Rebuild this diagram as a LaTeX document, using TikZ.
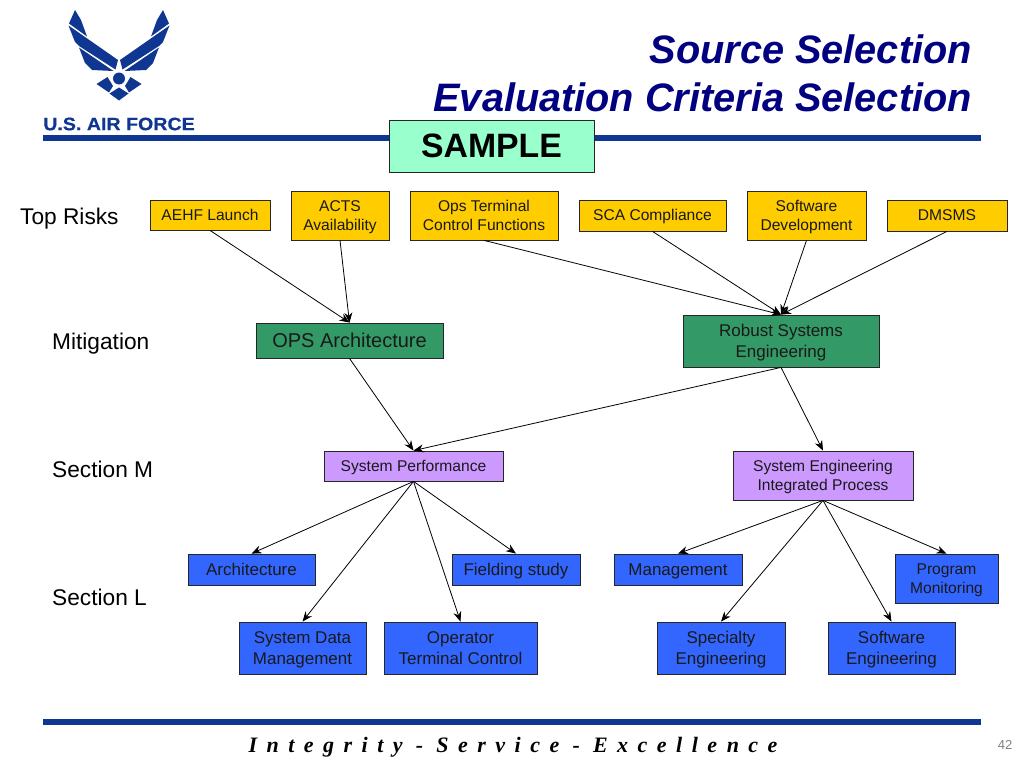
\documentclass[tikz,border=0pt]{standalone}
\usepackage{fontspec}
\usetikzlibrary{arrows.meta}
\setmainfont{Liberation Sans}
\newfontfamily\logofont[FakeStretch=1.09,BoldFeatures={FakeBold=0.5}]{Liberation Sans}
\newfontfamily\mottofont{Liberation Serif}
\newcommand{\boxstrut}{\vrule height .95em depth .25em width 0pt\relax}
\definecolor{afblue}{HTML}{0F3690}
\definecolor{afnavy}{HTML}{000080}
\definecolor{samplegreen}{HTML}{99FFCC}
\definecolor{riskgold}{HTML}{FFCC00}
\definecolor{mitgreen}{HTML}{339966}
\definecolor{secmpurple}{HTML}{CC99FF}
\definecolor{seclblue}{HTML}{3366FF}
\tikzset{
  box/.style={draw=black!85,line width=0.8pt,align=center,inner sep=0pt,text=black!90,
    execute at end node=\boxstrut},
  riskbox/.style={box,fill=riskgold,font=\fontsize{15.6}{19}\selectfont},
  mitbox/.style={box,fill=mitgreen,font=\fontsize{17}{20.5}\selectfont},
  secmbox/.style={box,fill=secmpurple,font=\fontsize{15.6}{19}\selectfont},
  seclbox/.style={box,fill=seclblue,font=\fontsize{17}{20.5}\selectfont},
  rowlabel/.style={anchor=west,inner sep=0pt,font=\fontsize{22.7}{26}\selectfont,
    execute at begin node=\boxstrut},
  titleline/.style={anchor=east,inner sep=0pt,text=afnavy,font=\fontsize{39.7}{44}\selectfont\bfseries\itshape},
  link/.style={-{Stealth[length=10pt,width=8pt]},line width=0.8pt},
}
\begin{document}
\begin{tikzpicture}[x=1pt,y=-1pt]
\useasboundingbox (0,0) rectangle (1024,768);
% logo
\fill[afblue] (75,10) -- (69,23.5) -- (87,36.5) -- (81,20) -- cycle;
\fill[afblue] (68.5,25.5) -- (118,60) -- (115.5,69.5) -- (79,46) -- (75,42) -- cycle;
\fill[afblue] (79,47.5) -- (113.5,71) -- (92,70) -- (85,63) -- cycle;
\fill[afblue] (163,10) -- (169,23.5) -- (151,36.5) -- (157,20) -- cycle;
\fill[afblue] (169.5,25.5) -- (120,60) -- (122.5,69.5) -- (159,46) -- (163,42) -- cycle;
\fill[afblue] (159,47.5) -- (124.5,71) -- (146,70) -- (153,63) -- cycle;
\fill[afblue] (119,78.5) circle (6);
\fill[afblue] (96.5,84) -- (107.5,77) -- (113,86) -- (109,92.5) -- cycle;
\fill[afblue] (141.5,84) -- (130.5,77) -- (125,86) -- (129,92.5) -- cycle;
\fill[afblue] (119,87.5) -- (128.5,93.5) -- (119,100.5) -- (109.5,93.5) -- cycle;
\draw (119,124) node (logotext) [text=afblue,inner sep=0pt,font=\logofont\fontsize{18}{20}\selectfont\bfseries] {U.S. AIR FORCE};
% rules
\fill[afblue] (43,135) rectangle (981,141);
\fill[afblue] (43,719) rectangle (981,725);
% title
\draw (972,49) node (title1) [titleline] {Source Selection};
\draw (972,97) node (title2) [titleline] {Evaluation Criteria Selection};
\draw (491.5,146) node (sample) [box,fill=samplegreen,minimum width=205,minimum height=52,text=black,font=\fontsize{33.8}{38}\selectfont\bfseries] {SAMPLE};
% row labels
\draw (20,217) node (toprisks) [rowlabel] {Top Risks};
\draw (52,342) node (mitigation) [rowlabel] {Mitigation};
\draw (52,470) node (sectionm) [rowlabel] {Section M};
\draw (52,598) node (sectionl) [rowlabel] {Section L};
% top risks
\draw (210,215) node (aehf) [riskbox,minimum width=120,minimum height=30] {AEHF Launch};
\draw (340,215.5) node (acts) [riskbox,minimum width=98,minimum height=49] {\boxstrut ACTS\\Availability};
\draw (484,215.5) node (ops) [riskbox,minimum width=148,minimum height=49] {\boxstrut Ops Terminal\\Control Functions};
\draw (652.5,215.5) node (sca) [riskbox,minimum width=147,minimum height=31] {SCA Compliance};
\draw (806.5,215.5) node (software) [riskbox,minimum width=119,minimum height=49] {\boxstrut Software\\Development};
\draw (947,215.5) node (dmsms) [riskbox,minimum width=120,minimum height=31] {DMSMS};
% mitigation
\draw (349.5,340.5) node (opsarch) [mitbox,minimum width=187,minimum height=35,font=\fontsize{20}{24}\selectfont] {OPS Architecture};
\draw (781,341) node (robust) [mitbox,minimum width=196,minimum height=52] {\boxstrut Robust Systems\\Engineering};
% section m
\draw (413.5,466) node (sysperf) [secmbox,minimum width=179,minimum height=30] {System Performance};
\draw (823,475.5) node (syseng) [secmbox,minimum width=180,minimum height=49] {\boxstrut System Engineering\\Integrated Process};
% section l
\draw (251.5,569.5) node (arch) [seclbox,minimum width=127,minimum height=31] {Architecture};
\draw (516,569.5) node (fielding) [seclbox,minimum width=128,minimum height=31] {Fielding study};
\draw (678,569.5) node (mgmt) [seclbox,minimum width=128,minimum height=31] {Management};
\draw (946.5,578.5) node (progmon) [seclbox,minimum width=103,minimum height=49,font=\fontsize{15.6}{19}\selectfont] {\boxstrut Program\\Monitoring};
\draw (302.5,648) node (sysdata) [seclbox,minimum width=127,minimum height=52] {\boxstrut System Data\\Management};
\draw (460.5,648) node (opterm) [seclbox,minimum width=153,minimum height=52] {\boxstrut Operator\\Terminal Control};
\draw (721,648) node (specialty) [seclbox,minimum width=128,minimum height=52] {\boxstrut Specialty\\Engineering};
\draw (891.5,648) node (softeng) [seclbox,minimum width=127,minimum height=52] {\boxstrut Software\\Engineering};
% connectors
\foreach \a/\b in {aehf/opsarch,acts/opsarch,ops/robust,sca/robust,software/robust,dmsms/robust,
  opsarch/sysperf,robust/sysperf,robust/syseng,
  sysperf/arch,sysperf/fielding,sysperf/sysdata,sysperf/opterm,
  syseng/mgmt,syseng/progmon,syseng/specialty,syseng/softeng}
  \draw[link] (\a.south) -- (\b.north);
% footer
\draw (513,747) node (motto) [inner sep=0pt,font=\mottofont\fontsize{22}{26}\selectfont\bfseries\itshape] {\spaceskip=9.5pt\relax I n t e g r i t y \,-\, S e r v i c e \,-\, E x c e l l e n c e};
\draw (1005,745) node (pagenum) [inner sep=0pt,text=black!50,font=\fontsize{13}{15}\selectfont] {42};
\end{tikzpicture}
\end{document}
